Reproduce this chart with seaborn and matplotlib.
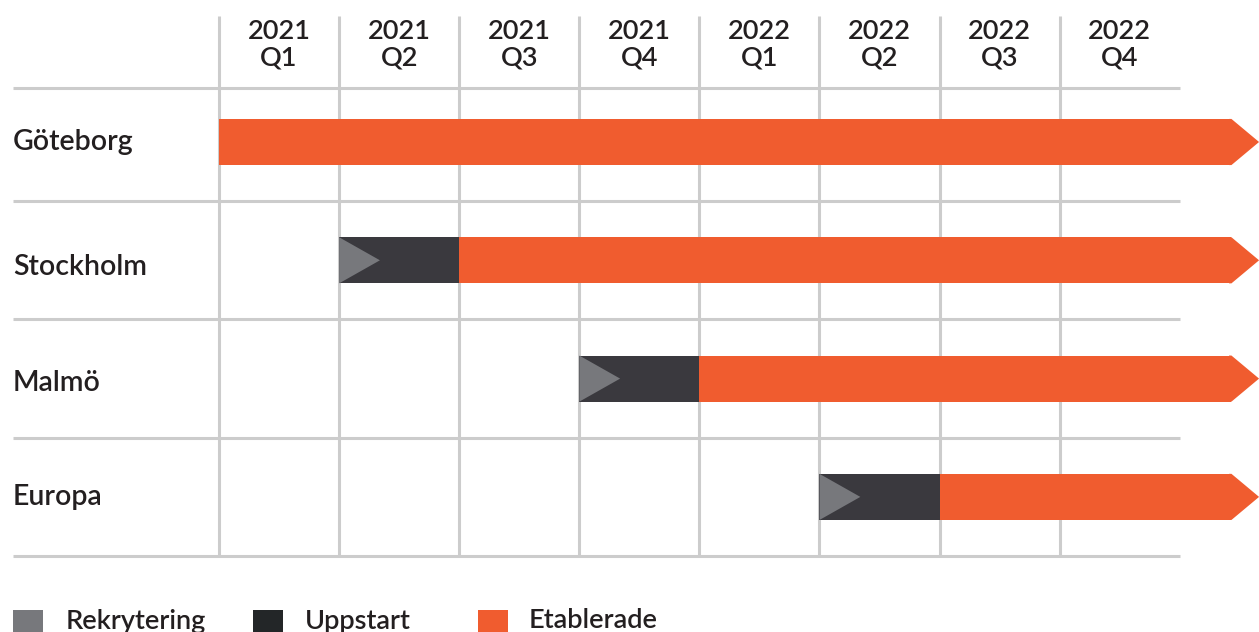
import numpy as np
import matplotlib
matplotlib.use("Agg")
import matplotlib.pyplot as plt
from matplotlib.patches import Polygon, Rectangle
import seaborn as sns

# --- datos ---
cities = ["Göteborg", "Stockholm", "Malmö", "Europa"]
quarters = ["2021\nQ1", "2021\nQ2", "2021\nQ3", "2021\nQ4",
            "2022\nQ1", "2022\nQ2", "2022\nQ3", "2022\nQ4"]
# start of each phase, in quarters from 2021 Q1 (None = no phase)
uppstart_start = [None, 1, 3, 5]
etablerade_start = [0, 2, 4, 6]
ongoing_until = 8.43  # bars continue past the last quarter (arrow)

legend_labels = ["Rekrytering", "Uppstart", "Etablerade"]

# --- estilo ---
C_ORANGE = "#F05C2F"
C_DARK = "#3A393E"
C_GRAY = "#77787C"
C_LEG_DARK = "#232628"
C_GRID = "#CCCCCC"
C_TEXT = "#231F20"

sns.set_theme(style="white")
plt.rcParams["font.family"] = ["Lato", "DejaVu Sans"]

W, H = 1259, 632
fig = plt.figure(figsize=(W / 100, H / 100), dpi=100)
ax = fig.add_axes([0, 0, 1, 1])

x0_px, px_per_q = 219, 120.1
y0_px, px_per_row = 142, 118.3
ax.set_xlim(-x0_px / px_per_q, (W - x0_px) / px_per_q)
ax.set_ylim((H - y0_px) / px_per_row, -y0_px / px_per_row)
ax.axis("off")

bar_h = 0.39
tip_len = 0.23
tri_len = 0.34
label_x = (13 - x0_px) / px_per_q
label_dy = [0.0, 0.06, 0.04, 0.0]  # small nudges of the row labels

# grid
n_q = len(quarters)
header_bottom = -0.46
for i in range(n_q):
    ax.plot([i, i], [-1.065, len(cities) - 0.5], color=C_GRID, lw=2.2, zorder=1,
            solid_capstyle="butt")
for yy in [header_bottom] + list(np.arange(len(cities)) + 0.5):
    ax.plot([label_x, n_q], [yy, yy], color=C_GRID, lw=2.2, zorder=1,
            solid_capstyle="butt")

# header
for i, q in enumerate(quarters):
    ax.text(i + 0.5, -0.82, q, ha="center", va="center", fontsize=19.5,
            color=C_TEXT, linespacing=1.05, fontweight="semibold")

# bars
for r, city in enumerate(cities):
    ax.text(label_x, r + label_dy[r], city, ha="left", va="center", fontsize=20.5,
            color=C_TEXT, fontweight="semibold")
    us = uppstart_start[r]
    es = etablerade_start[r]
    if us is not None:
        ax.barh(r, es - us + 0.02, left=us, height=bar_h, color=C_DARK, lw=0, zorder=2)
        ax.add_patch(Polygon([(us, r - bar_h / 2), (us + tri_len, r), (us, r + bar_h / 2)],
                             closed=True, color=C_GRAY, zorder=4, lw=0))
    ax.barh(r, ongoing_until - es, left=es, height=bar_h, color=C_ORANGE, lw=0, zorder=3)
    ax.add_patch(Polygon([(ongoing_until - 0.02, r - bar_h / 2), (ongoing_until, r - bar_h / 2),
                          (ongoing_until + tip_len, r),
                          (ongoing_until, r + bar_h / 2), (ongoing_until - 0.02, r + bar_h / 2)],
                         closed=True, color=C_ORANGE, zorder=3, lw=0))

# legend
leg_colors = [C_GRAY, C_LEG_DARK, C_ORANGE]
sq_x = [13, 253, 478]
txt_x = [66, 305, 529]
for lab, col, sx, tx in zip(legend_labels, leg_colors, sq_x, txt_x):
    fig.patches.append(Rectangle((sx / W, 1 - 640 / H), 30 / W, 30 / H,
                                 transform=fig.transFigure, color=col, figure=fig, lw=0))
    fig.text(tx / W, 1 - 621 / H, lab, ha="left", va="center", fontsize=19.5,
             color=C_TEXT, fontweight="semibold")

fig.savefig("out.png", dpi=100)
